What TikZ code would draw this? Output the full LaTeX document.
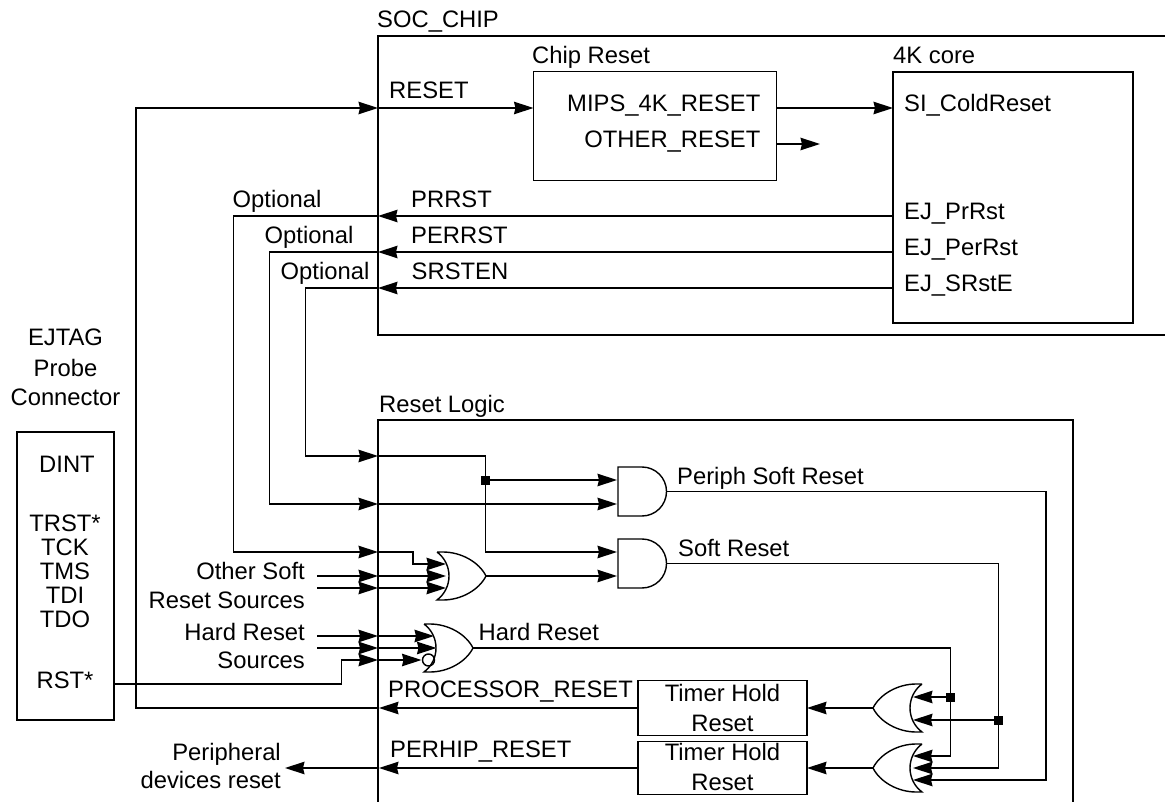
\documentclass[tikz,border=0pt]{standalone}
\usepackage{fontspec}
\setmainfont{Liberation Sans}
\usetikzlibrary{arrows.meta}
\tikzset{
  wire/.style={line width=1.4pt},
  arrowwire/.style={wire, -{Stealth[length=19.5pt,width=12.5pt,inset=1.5pt]}},
  blockbox/.style={draw, line width=1.4pt, inner sep=0pt},
  textlabel/.style={inner sep=0pt, anchor=base west, font=\fontsize{23.8}{28}\selectfont},
  rightlabel/.style={textlabel, anchor=base east},
  midlabel/.style={textlabel, anchor=base},
  junction/.style={fill, inner sep=0pt, minimum size=9pt},
  orgate/.pic={
    \draw[wire] (0,-24) -- (6,-24) .. controls (24,-24) and (42,-14) .. (49,0)
      .. controls (42,14) and (24,24) .. (6,24) -- (0,24)
      .. controls (16,12) and (16,-12) .. (0,-24);
  },
  andgate/.pic={
    \draw[wire] (24,-24.5) -- (0,-24.5) -- (0,24.5) -- (24,24.5)
      arc[start angle=90, end angle=-90, radius=24.5];
  }
}
\begin{document}
\begin{tikzpicture}[x=1pt, y=-1pt]
  \useasboundingbox (0,0) rectangle (1165,802);

  % chip and logic outlines are open on the page edge
  \draw[wire] (1165,36) -- (378,36) -- (378,335) -- (1165,335);
  \draw[wire] (378,802) -- (378,420) -- (1073,420) -- (1073,802);

  \node[blockbox, minimum width=243, minimum height=109] (chipreset) at (655,126) {};
  \node[blockbox, minimum width=240, minimum height=251] (corebox) at (1013,197.5) {};
  \node[blockbox, minimum width=97, minimum height=288] (probe) at (65.5,576) {};
  \node[blockbox, minimum width=169, minimum height=54.5] (timerproc) at (722.5,708) {};
  \node[blockbox, minimum width=169, minimum height=53.5] (timerper) at (722.5,768) {};

  \foreach \name/\x/\y/\txt in {
    socname/377/28/SOC\_CHIP, chipname/532/64/Chip Reset, corename/893/64/4K core,
    resetname/389/99/RESET, coldname/904/112/SI\_ColdReset, prname/904/220/EJ\_PrRst,
    pername/904/256/EJ\_PerRst, srname/904/292/EJ\_SRstE, prrstname/411/207.5/PRRST,
    perrstname/411/243.5/PERRST, srstname/411.5/280/SRSTEN, opta/232.5/207.5/Optional,
    optb/264.5/243.5/Optional, optc/280.5/280/Optional, logicname/379/412/Reset Logic,
    periphname/677/484/Periph Soft Reset, softname/678/556/Soft Reset, hardname/478.5/640/Hard Reset,
    procname/388/697.5/PROCESSOR\_RESET, perhipname/390/757.5/PERHIP\_RESET}
    \node[textlabel] (\name) at (\x,\y) {\txt};

  \foreach \name/\x/\y/\txt in {
    mipsname/760.5/111.5/MIPS\_4K\_RESET, othername/760.5/147.5/OTHER\_RESET, othera/305/579/Other Soft,
    otherb/305/608.5/Reset Sources, harda/305/640/Hard Reset, hardb/305/668.5/Sources,
    devicea/281/760/Peripheral, deviceb/281/788/devices reset}
    \node[rightlabel] (\name) at (\x,\y) {\txt};

  \foreach \name/\x/\y/\txt in {
    ejtag/65.5/345.5/EJTAG, probetxt/65.5/376.5/Probe, conn/65.5/405/Connector, dint/67/472/DINT,
    trst/65/531.5/TRST*, tck/65/555.5/TCK, tms/65/579.5/TMS, tdi/65/603.5/TDI, tdo/65/627.5/TDO,
    rst/65/688/RST*, holda/722.5/701.5/Timer Hold, holdb/722.5/731/Reset,
    holdc/722.5/760/Timer Hold, holdd/722.5/790/Reset}
    \node[midlabel] (\name) at (\x,\y) {\txt};

  % gates
  \pic at (618,491.5) {andgate};
  \pic at (618,563.5) {andgate};
  \pic at (437,576) {orgate};
  \pic at (424,648) {orgate};
  \pic[xscale=-1] at (922,708) {orgate};
  \pic[xscale=-1] at (922,768) {orgate};
  \draw[wire] (428.5,660) circle[radius=6];

  \foreach \name/\x/\y in {
    nrstl/136/108, nsocin/378/108, nchipin/533.5/108, nchipout/776.5/108, ncorein/893/108,
    nothera/776.5/144, notherb/820/144, nprr/893/216, nprm/378/216, nprc/233.5/216,
    nprd/233.5/552, nprin/378/552, nprbend/413/552, nprto/413/564, nprgate/446/564,
    nperr/893/252, nperm/378/252, nperc/269.5/252, nperd/269.5/504, nperin/378/504, nperg/617/504,
    nsrr/893/288, nsrm/378/288, nsrc/305.5/288, nsrd/305.5/456, nsrin/378/456, nsrt/485.5/456,
    nsrb/485.5/552, nsrg/617/552, njand/485.5/480, njandg/617/480,
    nsa/317/576, nsam/378/576, nsag/446/576, nsb/317/588, nsbm/378/588, nsbg/446/588,
    nsor/486/576, nsorg/617/576,
    nha/317/636, nham/378/636, nhag/434/636, nhb/317/648, nhbm/378/648, nhbg/436.5/648,
    nrsta/114/684, nrstb/341.5/684, nrstc/341.5/660, nhcm/378/660, nhcg/421.5/660,
    nhout/473/648, nhc/950.5/648, nhj/950.5/697, nhjg/913/697, nhd/950.5/756, nhdg/913/756,
    nsout/667/563.5, nsc/998.5/563.5, nsj/998.5/720, nsjg/913/720, nsd/998.5/768, nsdg/913/768,
    npout/667/491.5, npc/1046/491.5, npd/1046/780, npg/913/780,
    norua/873/708, noruin/807/708, norlo/873/768, norloin/807/768,
    ntpout/638/708, ntpin/379/708, ntpl/136/708,
    ntlout/638/768, ntlin/379/768, ntlend/285/768}
    \coordinate (\name) at (\x,\y);

  % RESET path through the chip
  \draw[arrowwire] (ntpin) -- (ntpl) -- (nrstl) -- (nsocin);
  \draw[arrowwire] (nsocin) -- (nchipin);
  \draw[arrowwire] (nchipout) -- (ncorein);
  \draw[arrowwire] (nothera) -- (notherb);

  \foreach \rgt/\midd/\crn/\dwn/\into in {nprr/nprm/nprc/nprd/nprin, nperr/nperm/nperc/nperd/nperin, nsrr/nsrm/nsrc/nsrd/nsrin} {
    \draw[arrowwire] (\rgt) -- (\midd);
    \draw[arrowwire] (\midd) -- (\crn) -- (\dwn) -- (\into);
  }

  % into the gates
  \draw[arrowwire] (nprin) -- (nprbend) -- (nprto) -- (nprgate);
  \draw[arrowwire] (nperin) -- (nperg);
  \draw[arrowwire] (nsrin) -- (nsrt) -- (nsrb) -- (nsrg);
  \draw[arrowwire] (njand) -- (njandg);
  \draw[arrowwire] (nsa) -- (nsam);
  \draw[arrowwire] (nsam) -- (nsag);
  \draw[arrowwire] (nsb) -- (nsbm);
  \draw[arrowwire] (nsbm) -- (nsbg);
  \draw[arrowwire] (nsor) -- (nsorg);
  \draw[arrowwire] (nha) -- (nham);
  \draw[arrowwire] (nham) -- (nhag);
  \draw[arrowwire] (nhb) -- (nhbm);
  \draw[arrowwire] (nhbm) -- (nhbg);
  \draw[arrowwire] (nrsta) -- (nrstb) -- (nrstc) -- (nhcm);
  \draw[arrowwire] (nhcm) -- (nhcg);

  % outputs down to the right hand gates
  \draw[arrowwire] (nhout) -- (nhc) -- (nhd) -- (nhdg);
  \draw[arrowwire] (nhj) -- (nhjg);
  \draw[arrowwire] (nsout) -- (nsc) -- (nsd) -- (nsdg);
  \draw[arrowwire] (nsj) -- (nsjg);
  \draw[arrowwire] (npout) -- (npc) -- (npd) -- (npg);
  \draw[arrowwire] (norua) -- (noruin);
  \draw[arrowwire] (norlo) -- (norloin);
  \draw[arrowwire] (ntpout) -- (ntpin);
  \draw[arrowwire] (ntlout) -- (ntlin);
  \draw[arrowwire] (ntlin) -- (ntlend);

  \node[junction] (dotand) at (njand) {};
  \node[junction] (dothard) at (nhj) {};
  \node[junction] (dotsoft) at (nsj) {};
\end{tikzpicture}
\end{document}
